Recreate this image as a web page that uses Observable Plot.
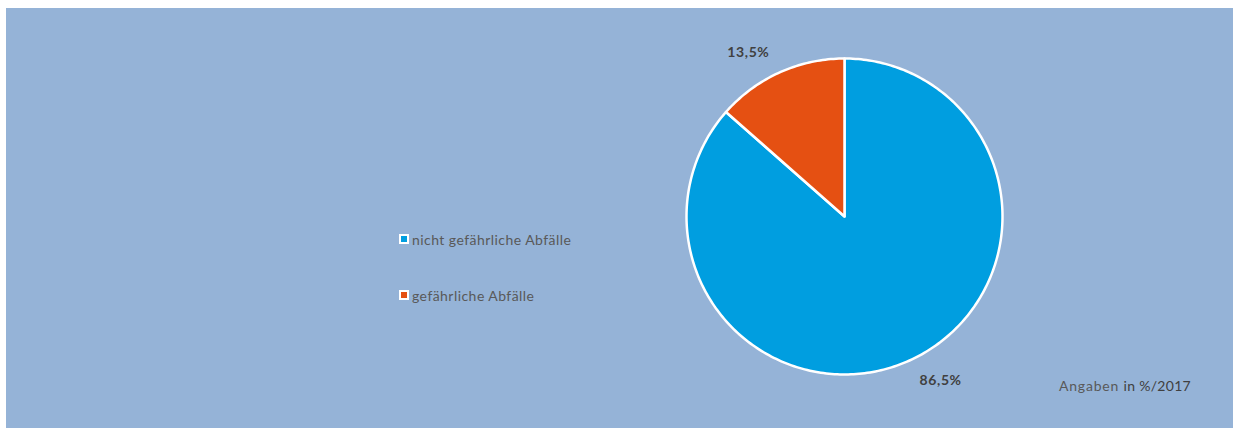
<!DOCTYPE html>
<html>
<head>
<meta charset="utf-8">
<script src="https://cdn.jsdelivr.net/npm/d3@7"></script>
<script src="https://cdn.jsdelivr.net/npm/@observablehq/plot@0.6"></script>
<style>
  body { margin: 0; background: #ffffff; font-family: Lato, "Open Sans", sans-serif; }
  #chart { position: absolute; left: 6px; top: 8px; width: 1227px; height: 420px; background: #95b3d7; overflow: hidden; }
  #chart svg { position: absolute; left: 0; top: 0; background: transparent; }
  .legend { position: absolute; left: 393px; font-size: 14px; color: #595959; letter-spacing: 0.45px; }
  .item { position: absolute; left: 0; display: flex; align-items: center; white-space: nowrap; height: 16px; }
  .sw { width: 6px; height: 6px; border: 2px solid #ffffff; margin-right: 3px; }
  .note { position: absolute; left: 1053px; top: 369px; font-size: 14px; color: #404040; white-space: nowrap; letter-spacing: 0.3px; }
  .note .light { color: #595959; letter-spacing: 0.8px; }
  svg text { letter-spacing: 0.6px; }
</style>
</head>
<body>
<div id="chart"></div>
<script>
const categories = ["nicht gefährliche Abfälle", "gefährliche Abfälle"];
const values = [86.5, 13.5];
const valueLabels = ["86,5%", "13,5%"];
const colors = ["#009ee0", "#e55012"];
const note = ["Angaben ", "in %/2017"];

const data = categories.map((c, i) => ({cat: c, value: values[i], label: valueLabels[i]}));
const arcs = d3.pie().sort(null).value(d => d.value)(data);

// slice outlines from pie angles (unit radius)
const slicePts = [];
for (const a of arcs) {
  const cat = a.data.cat;
  slicePts.push({cat, x: 0, y: 0});
  const steps = Math.max(2, Math.ceil((a.endAngle - a.startAngle) / (Math.PI / 180)));
  for (let k = 0; k <= steps; k++) {
    const t = a.startAngle + (a.endAngle - a.startAngle) * k / steps;
    slicePts.push({cat, x: Math.sin(t), y: Math.cos(t)});
  }
  slicePts.push({cat, x: 0, y: 0});
}

const labelPts = arcs.map(a => {
  const m = (a.startAngle + a.endAngle) / 2;
  return {label: a.data.label, x: Math.sin(m) * 1.14, y: Math.cos(m) * 1.14, side: Math.sign(Math.sin(m))};
});

const cx = 838, cy = 208, r = 158;
const chart = Plot.plot({
  width: 1227,
  height: 420,
  margin: 0,
  style: {background: "transparent", overflow: "visible"},
  x: {domain: [-1, 1], range: [cx - r, cx + r], axis: null},
  y: {domain: [-1, 1], range: [cy + r, cy - r], axis: null},
  color: {domain: categories, range: colors},
  marks: [
    Plot.line(slicePts, {x: "x", y: "y", z: "cat", fill: "cat", stroke: "#ffffff", strokeWidth: 2.5, strokeLinejoin: "round", curve: "linear"}),
    Plot.text(labelPts.filter(d => d.side > 0), {x: "x", y: "y", text: "label", dx: 22, fontSize: 14, fontWeight: "bold", fill: "#404040", fontFamily: "Lato, sans-serif"}),
    Plot.text(labelPts.filter(d => d.side < 0), {x: "x", y: "y", text: "label", dx: -22, fontSize: 14, fontWeight: "bold", fill: "#404040", fontFamily: "Lato, sans-serif"})
  ]
});
const root = document.getElementById("chart");
root.appendChild(chart);

const legend = document.createElement("div");
legend.className = "legend";
const tops = [223, 279];
categories.forEach((c, i) => {
  const it = document.createElement("div");
  it.className = "item";
  it.style.top = tops[i] + "px";
  const sw = document.createElement("span");
  sw.className = "sw";
  sw.style.background = colors[i];
  const tx = document.createElement("span");
  tx.textContent = c;
  it.appendChild(sw); it.appendChild(tx);
  legend.appendChild(it);
});
root.appendChild(legend);

const n = document.createElement("div");
n.className = "note";
const l1 = document.createElement("span"); l1.className = "light"; l1.textContent = note[0];
const l2 = document.createElement("span"); l2.textContent = note[1];
n.appendChild(l1); n.appendChild(l2);
root.appendChild(n);
</script>
</body>
</html>
